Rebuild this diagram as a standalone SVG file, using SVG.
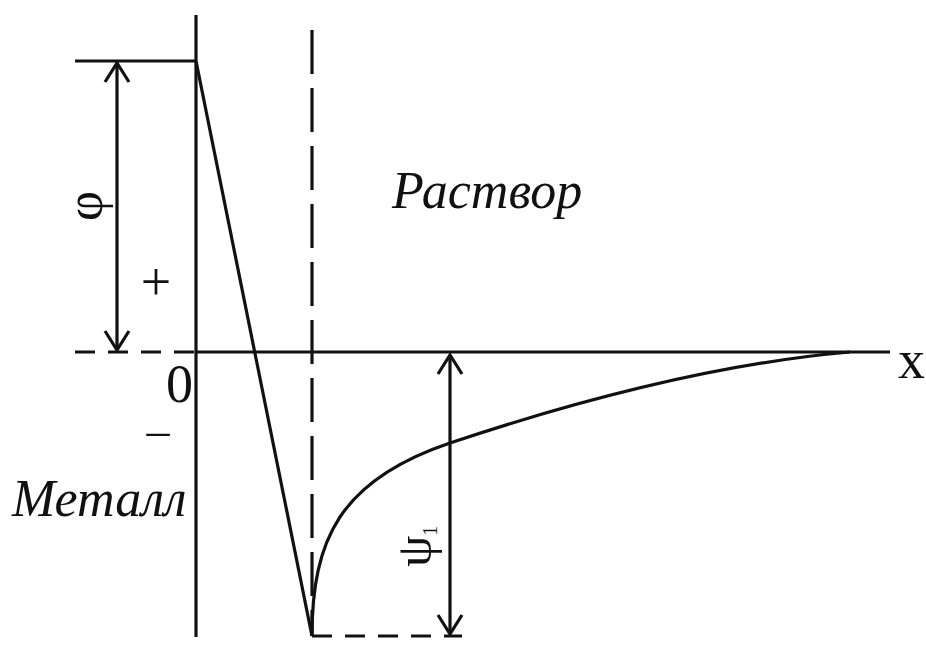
<svg xmlns="http://www.w3.org/2000/svg" width="926" height="645" viewBox="0 0 926 645">
<style>
.ln{stroke:#111;stroke-width:3.2;fill:none;stroke-linecap:butt}
.dl{stroke:#111;stroke-width:3.2;fill:none;stroke-dasharray:20 13}
.dv{stroke:#111;stroke-width:3.2;fill:none;stroke-dasharray:44 14}
.ah{stroke:#111;stroke-width:3.2;fill:none;stroke-linejoin:miter}
.t{font-family:"Liberation Serif","Times New Roman",serif;fill:#111}
.ti{font-family:"Liberation Serif","Times New Roman",serif;font-style:italic;fill:#111}
</style>
<rect width="926" height="645" fill="#fff"/>
<g id="axes">
<line class="ln" x1="196" y1="15" x2="196" y2="637"/>
<line class="ln" x1="196" y1="352" x2="890" y2="352"/>
<line class="ln" x1="75" y1="61" x2="197" y2="61"/>
<line class="dl" x1="75" y1="352" x2="196" y2="352"/>
<line class="dv" x1="312" y1="30" x2="312" y2="636"/>
<line class="dl" x1="312" y1="636" x2="462" y2="636"/>
</g>
<g id="potential">
<path class="ln" d="M196,61 L312,636"/>
<path class="ln" d="M312,636 C312,540 340,480 450,443 C540,413 700,365 850,352"/>
</g>
<g id="connectors">
<line class="ln" x1="117" y1="63" x2="117" y2="350"/>
<polyline class="ah" points="105,82 117,63 129,82"/>
<polyline class="ah" points="105,331 117,350 129,331"/>
<line class="ln" x1="450" y1="355" x2="450" y2="634"/>
<polyline class="ah" points="438,374 450,355 462,374"/>
<polyline class="ah" points="438,615 450,634 462,615"/>
</g>
<g id="labels">
<text class="ti" x="392" y="208" font-size="52">Раствор</text>
<text class="ti" x="12" y="516" font-size="52">Металл</text>
<text class="t" x="166" y="402" font-size="54">0</text>
<text class="t" x="898" y="378" font-size="54">x</text>
<text class="t" x="156" y="300" font-size="54" text-anchor="middle">+</text>
<text class="t" x="158" y="446" font-size="46" text-anchor="middle">–</text>
<text class="t" transform="translate(102,206) rotate(-90)" font-size="52" text-anchor="middle">φ</text>
<text class="t" transform="translate(431,567) rotate(-90)" font-size="50">ψ<tspan font-size="20" dy="6">1</tspan></text>
</g>
</svg>
